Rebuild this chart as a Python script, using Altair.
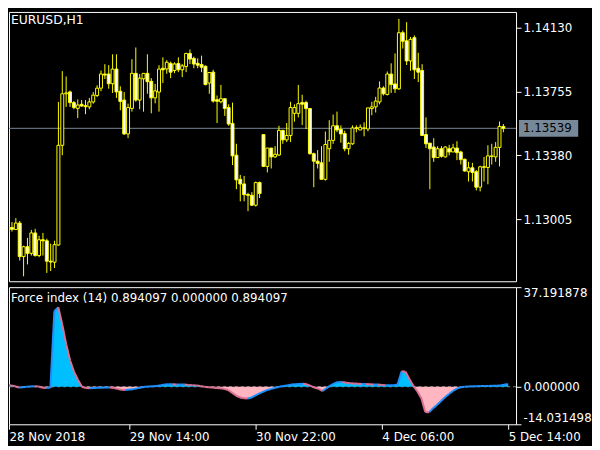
import altair as alt
import pandas as pd

# ---------------- data ----------------
opens = [
    1.12959, 1.12956, 1.12944, 1.12982, 1.12785, 1.12843, 1.12804, 1.12924, 1.12791, 1.12884,
    1.12878, 1.12758, 1.12752, 1.12853, 1.13439, 1.13742, 1.13753, 1.13690, 1.13656, 1.13680,
    1.13672, 1.13665, 1.13694, 1.13732, 1.13775, 1.13858, 1.13858, 1.13801, 1.13887, 1.13757,
    1.13705, 1.13506, 1.13656, 1.13862, 1.13705, 1.13830, 1.13862, 1.13815, 1.13718, 1.13752,
    1.13892, 1.13888, 1.13921, 1.13879, 1.13920, 1.13883, 1.13902, 1.13979, 1.13950, 1.13921,
    1.13914, 1.13904, 1.13805, 1.13869, 1.13707, 1.13695, 1.13713, 1.13661, 1.13568, 1.13381,
    1.13239, 1.13212, 1.13150, 1.13145, 1.13087, 1.13220, 1.13502, 1.13315, 1.13423, 1.13371,
    1.13382, 1.13527, 1.13471, 1.13497, 1.13627, 1.13627, 1.13690, 1.13690, 1.13655, 1.13390,
    1.13346, 1.13336, 1.13239, 1.13419, 1.13468, 1.13554, 1.13533, 1.13508, 1.13419, 1.13448,
    1.13542, 1.13529, 1.13539, 1.13535, 1.13655, 1.13665, 1.13694, 1.13776, 1.13738, 1.13858,
    1.13800, 1.13771, 1.14101, 1.14053, 1.13935, 1.14072, 1.13892, 1.13879, 1.13502, 1.13452,
    1.13429, 1.13367, 1.13419, 1.13371, 1.13419, 1.13400, 1.13423, 1.13400, 1.13357, 1.13284,
    1.13307, 1.13284, 1.13193, 1.13313, 1.13309, 1.13373, 1.13371, 1.13427, 1.13550,
]
highs = [
    1.12962, 1.12988, 1.13011, 1.12994, 1.12849, 1.12895, 1.12942, 1.12948, 1.12907, 1.12924,
    1.12890, 1.12861, 1.12878, 1.13694, 1.13875, 1.13844, 1.13761, 1.13699, 1.13709, 1.13705,
    1.13705, 1.13718, 1.13752, 1.13792, 1.13879, 1.13916, 1.13910, 1.13974, 1.13974, 1.13786,
    1.13752, 1.13684, 1.13945, 1.14014, 1.13858, 1.13862, 1.13974, 1.13834, 1.13800, 1.13910,
    1.13956, 1.13940, 1.13931, 1.13927, 1.13956, 1.13917, 1.13983, 1.14002, 1.13960, 1.13950,
    1.13966, 1.13908, 1.13867, 1.13883, 1.13732, 1.13794, 1.13713, 1.13680, 1.13690, 1.13448,
    1.13265, 1.13259, 1.13160, 1.13164, 1.13226, 1.13226, 1.13502, 1.13423, 1.13423, 1.13434,
    1.13554, 1.13527, 1.13570, 1.13695, 1.13680, 1.13794, 1.13736, 1.13701, 1.13659, 1.13396,
    1.13411, 1.13434, 1.13520, 1.13587, 1.13620, 1.13637, 1.13556, 1.13525, 1.13458, 1.13556,
    1.13556, 1.13562, 1.13574, 1.13659, 1.13695, 1.13724, 1.13815, 1.13786, 1.13873, 1.13921,
    1.13979, 1.14182, 1.14114, 1.14163, 1.14076, 1.14085, 1.13983, 1.13916, 1.13603, 1.13452,
    1.13481, 1.13434, 1.13434, 1.13434, 1.13442, 1.13448, 1.13463, 1.13407, 1.13361, 1.13342,
    1.13336, 1.13294, 1.13319, 1.13371, 1.13439, 1.13448, 1.13458, 1.13579, 1.13564,
]
lows = [
    1.12930, 1.12932, 1.12944, 1.12762, 1.12669, 1.12739, 1.12791, 1.12785, 1.12781, 1.12791,
    1.12689, 1.12700, 1.12718, 1.12849, 1.13381, 1.13665, 1.13665, 1.13651, 1.13599, 1.13665,
    1.13622, 1.13651, 1.13684, 1.13723, 1.13757, 1.13829, 1.13772, 1.13747, 1.13718, 1.13645,
    1.13500, 1.13481, 1.13637, 1.13695, 1.13651, 1.13637, 1.13742, 1.13627, 1.13686, 1.13637,
    1.13805, 1.13859, 1.13834, 1.13863, 1.13869, 1.13840, 1.13869, 1.13917, 1.13892, 1.13892,
    1.13869, 1.13792, 1.13742, 1.13690, 1.13570, 1.13686, 1.13612, 1.13554, 1.13323, 1.13181,
    1.13110, 1.13110, 1.13052, 1.13083, 1.13079, 1.13129, 1.13313, 1.13280, 1.13303, 1.13365,
    1.13377, 1.13448, 1.13459, 1.13459, 1.13578, 1.13603, 1.13558, 1.13535, 1.13384, 1.13193,
    1.13303, 1.13239, 1.13232, 1.13342, 1.13448, 1.13516, 1.13454, 1.13404, 1.13384, 1.13442,
    1.13516, 1.13529, 1.13492, 1.13521, 1.13616, 1.13632, 1.13680, 1.13732, 1.13732, 1.13747,
    1.13747, 1.13765, 1.14008, 1.13911, 1.13877, 1.13829, 1.13811, 1.13497, 1.13423, 1.13181,
    1.13342, 1.13367, 1.13367, 1.13367, 1.13380, 1.13400, 1.13352, 1.13326, 1.13284, 1.13226,
    1.13226, 1.13174, 1.13168, 1.13226, 1.13210, 1.13326, 1.13342, 1.13315, 1.13516,
]
closes = [
    1.12932, 1.12945, 1.12982, 1.12785, 1.12843, 1.12804, 1.12924, 1.12791, 1.12884, 1.12878,
    1.12758, 1.12753, 1.12855, 1.13439, 1.13742, 1.13747, 1.13690, 1.13661, 1.13676, 1.13670,
    1.13666, 1.13694, 1.13734, 1.13775, 1.13858, 1.13852, 1.13801, 1.13887, 1.13753, 1.13697,
    1.13506, 1.13661, 1.13862, 1.13705, 1.13834, 1.13862, 1.13813, 1.13718, 1.13759, 1.13887,
    1.13883, 1.13927, 1.13869, 1.13917, 1.13883, 1.13906, 1.13979, 1.13946, 1.13917, 1.13910,
    1.13898, 1.13796, 1.13867, 1.13699, 1.13698, 1.13713, 1.13656, 1.13564, 1.13377, 1.13236,
    1.13212, 1.13149, 1.13145, 1.13087, 1.13220, 1.13156, 1.13315, 1.13423, 1.13371, 1.13386,
    1.13527, 1.13471, 1.13497, 1.13661, 1.13661, 1.13684, 1.13681, 1.13655, 1.13390, 1.13346,
    1.13333, 1.13239, 1.13444, 1.13468, 1.13554, 1.13529, 1.13506, 1.13419, 1.13450, 1.13541,
    1.13539, 1.13545, 1.13541, 1.13659, 1.13665, 1.13699, 1.13776, 1.13742, 1.13858, 1.13796,
    1.13771, 1.14101, 1.14051, 1.13935, 1.14062, 1.13883, 1.13869, 1.13497, 1.13448, 1.13419,
    1.13367, 1.13419, 1.13375, 1.13429, 1.13400, 1.13424, 1.13396, 1.13355, 1.13288, 1.13307,
    1.13280, 1.13193, 1.13313, 1.13310, 1.13377, 1.13377, 1.13427, 1.13550, 1.13539,
]
force = [
    0.8, 0.7, 0.5, 0.2, -0.3, -0.2, 0.0, 0.1, 0.2, 0.1,
    -0.4, -0.5, -0.3, 28.2, 29.7, 23.3, 15.9, 9.8, 5.5, 2.5,
    0.0, -0.5, -0.6, -0.5, -0.4, -0.4, -0.3, -0.3, -0.5, -0.8,
    -1.1, -1.2, -1.0, -0.9, -0.6, -0.3, 0.0, 0.1, 0.2, 0.3,
    0.6, 0.8, 0.9, 0.9, 0.8, 0.8, 0.8, 0.7, 0.6, 0.5,
    0.3, 0.0, -0.2, -0.3, -0.5, -0.6, -0.8, -1.2, -2.2, -3.3,
    -4.0, -4.3, -4.4, -4.0, -3.2, -2.5, -1.8, -1.2, -0.8, -0.4,
    0.0, 0.3, 0.5, 0.8, 0.9, 1.0, 1.1, 0.9, 0.3, -0.4,
    -0.8, -1.6, -0.5, 0.5, 1.3, 1.8, 1.8, 1.5, 1.3, 1.2,
    1.1, 1.0, 1.0, 0.9, 0.8, 0.8, 0.7, 0.6, 0.6, 0.6,
    0.8, 5.8, 5.6, 2.8, 0.3, -1.8, -4.3, -9.4, -9.5, -8.0,
    -6.7, -5.3, -3.9, -2.7, -1.6, -0.7, -0.2, 0.0, 0.1, 0.2,
    0.2, 0.3, 0.3, 0.3, 0.4, 0.4, 0.5, 0.8, 0.894097,
]

tick_pos = [0, 32, 64, 96, 128]
tick_labels = ["28 Nov 2018", "29 Nov 14:00", "30 Nov 22:00", "4 Dec 06:00", "5 Dec 14:00"]
price_ticks = [1.13005, 1.13380, 1.13755, 1.14130]
price_domain = [1.12640, 1.14223]
fi_ticks = [-14.031498, 0.0, 37.191878]
fi_tick_labels = ["-14.031498", "0.000000", "37.191878"]
last_price = 1.13539
symbol_title = "EURUSD,H1"
fi_title = "Force index (14) 0.894097 0.000000 0.894097"

# visible bar window (the first bars sit under the left frame, as in the terminal)
x_start, x_end = 1.5, 130.0

# ---------------- tables ----------------
n = len(closes)
df = pd.DataFrame({"i": list(range(n)), "open": opens, "high": highs,
                   "low": lows, "close": closes, "fi": force})
df["dir"] = ["bull" if c >= o else "bear" for o, c in zip(opens, closes)]
df["pos"] = [max(v, 0.0) for v in force]
df["neg"] = [min(v, 0.0) for v in force]
df["zero"] = 0.0

seg = pd.DataFrame({
    "i": list(range(n - 1)),
    "i2": list(range(1, n)),
    "a": force[:-1],
    "b": force[1:],
})
seg["slope"] = ["up" if b >= a else "down" for a, b in zip(force[:-1], force[1:])]

FONT = "DejaVu Sans"
W = 514
xscale = alt.Scale(domain=[x_start, x_end], nice=False, zero=False)
pscale = alt.Scale(domain=price_domain, nice=False, zero=False)
fscale = alt.Scale(domain=[fi_ticks[0], fi_ticks[-1]], nice=False, zero=False)

# ---------------- price panel ----------------
base = alt.Chart(df)
price_axis = alt.Axis(orient="right", values=price_ticks, format=".5f", tickSize=5,
                      labelPadding=2, title=None, grid=False, domain=False,
                      labelOverlap=False, labelFlush=False)

pline = alt.Chart(pd.DataFrame({"p": [last_price]})).mark_rule(
    color="#778899", strokeWidth=1).encode(
    y=alt.Y("p:Q", scale=pscale, axis=price_axis))

wicks = base.mark_rule(color="#FFFF00", strokeWidth=1, clip=True).encode(
    x=alt.X("i:Q", scale=xscale, axis=None),
    y=alt.Y("low:Q", scale=pscale),
    y2="high:Q")

bodies = base.mark_bar(width=3, stroke="#FFFF00", strokeWidth=1, clip=True).encode(
    x=alt.X("i:Q", scale=xscale, axis=None),
    y=alt.Y("open:Q", scale=pscale),
    y2="close:Q",
    fill=alt.Fill("dir:N", scale=alt.Scale(domain=["bull", "bear"],
                                            range=["#000000", "#FFFFFF"]), legend=None))

tag_df = pd.DataFrame({"p": [last_price], "t": [f"{last_price:.5f}"]})
tag_box = alt.Chart(tag_df).mark_rule(color="#778899", strokeWidth=17, strokeCap="butt").encode(
    x=alt.value(W + 3), x2=alt.value(W + 63),
    y=alt.Y("p:Q", scale=pscale))
tag_txt = alt.Chart(tag_df).mark_text(align="left", baseline="middle", font=FONT,
                                      fontSize=12, color="#000000").encode(
    x=alt.value(W + 7), y=alt.Y("p:Q", scale=pscale), text="t:N")

sym = alt.Chart(pd.DataFrame({"t": [symbol_title]})).mark_text(
    align="left", baseline="alphabetic", font=FONT, fontSize=12.5, color="white").encode(
    x=alt.value(2), y=alt.value(12), text="t:N")

top = alt.layer(pline, wicks, bodies, tag_box, tag_txt, sym).properties(width=W, height=273)

# ---------------- force index panel ----------------
fi_label_expr = " : ".join(
    [f"datum.value < {fi_ticks[0] + 1} ? '{fi_tick_labels[0]}'",
     f"datum.value > {fi_ticks[2] - 1} ? '{fi_tick_labels[2]}'",
     f"'{fi_tick_labels[1]}'"])
fi_axis = alt.Axis(orient="right", values=fi_ticks, labelExpr=fi_label_expr, tickSize=5,
                   labelPadding=2, title=None, grid=False, domain=False,
                   labelFlush=True, labelOverlap=False)

axis_ticks = [max(p, x_start) for p in tick_pos]
x_label_expr = " : ".join(
    [f"datum.value == {p} ? '{t}'" for p, t in zip(axis_ticks, tick_labels)] + ["''"])
x_axis = alt.Axis(values=axis_ticks, labelExpr=x_label_expr, tickSize=5, labelAlign="left",
                  labelBaseline="top", labelPadding=2, labelFlush=False, labelOverlap=False,
                  labelBound=False, title=None, grid=False, domain=False)

fbase = alt.Chart(df)
zero_line = alt.Chart(pd.DataFrame({"z": [0.0]})).mark_rule(
    color="#909090", strokeDash=[3, 3], strokeWidth=1).encode(
    y=alt.Y("z:Q", scale=fscale, axis=fi_axis))

pos_area = fbase.mark_area(color="#00BFFF", interpolate="linear", clip=True).encode(
    x=alt.X("i:Q", scale=xscale, axis=x_axis),
    y=alt.Y("pos:Q", scale=fscale),
    y2="zero:Q")
neg_area = fbase.mark_area(color="#FFB6C1", interpolate="linear", clip=True).encode(
    x=alt.X("i:Q", scale=xscale),
    y=alt.Y("neg:Q", scale=fscale),
    y2="zero:Q")

segs = alt.Chart(seg).mark_rule(strokeWidth=2, clip=True).encode(
    x=alt.X("i:Q", scale=xscale),
    x2="i2:Q",
    y=alt.Y("a:Q", scale=fscale),
    y2="b:Q",
    color=alt.Color("slope:N", scale=alt.Scale(domain=["up", "down"],
                                                range=["#1E90FF", "#DB7093"]), legend=None))

fi_txt = alt.Chart(pd.DataFrame({"t": [fi_title]})).mark_text(
    align="left", baseline="alphabetic", font=FONT, fontSize=12, color="white").encode(
    x=alt.value(2), y=alt.value(15), text="t:N")

bottom = alt.layer(zero_line, pos_area, neg_area, segs, fi_txt).properties(width=W, height=139)

chart = alt.vconcat(top, bottom, spacing=3).resolve_scale(x="independent").configure(
    background="black", padding=0
).configure_view(
    stroke="white", strokeWidth=1, fill="black"
).configure_axis(
    labelFont=FONT, labelFontSize=12, labelColor="white", tickColor="white", tickWidth=1
)

chart.save("out.html", embed_options={"renderer": "svg", "actions": False})
